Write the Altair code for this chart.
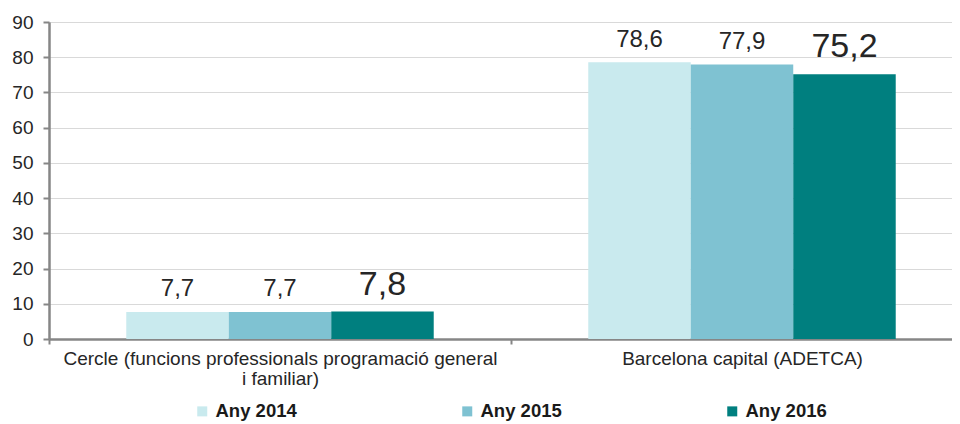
import altair as alt
import pandas as pd

categories = ["Cercle (funcions professionals programació general|i familiar)",
              "Barcelona capital (ADETCA)"]
years = ["Any 2014", "Any 2015", "Any 2016"]
values_2014 = [7.7, 78.6]
values_2015 = [7.7, 77.9]
values_2016 = [7.8, 75.2]
colors = ["#c9eaee", "#7fc2d2", "#007f7f"]

rows = []
for year, vals in zip(years, [values_2014, values_2015, values_2016]):
    for cat, v in zip(categories, vals):
        rows.append({"cat": cat, "year": year, "value": v,
                     "label": f"{v:.1f}".replace(".", ",")})
df = pd.DataFrame(rows)

FONT = "Liberation Sans"

x = alt.X("cat:N", sort=categories, title=None,
          scale=alt.Scale(range=[0, 924], paddingInner=0, paddingOuter=0),
          axis=alt.Axis(labelExpr="split(datum.label, '|')", labelAngle=0,
                        labelFontSize=19, labelColor="#262626", labelFont=FONT,
                        labelLineHeight=20, labelPadding=5, labelLimit=700,
                        tickBand="extent", tickSize=5, tickColor="#868686",
                        tickWidth=2, domainColor="#868686", domainWidth=2.5,
                        grid=False))
xo = alt.XOffset("year:N", sort=years,
                 scale=alt.Scale(paddingInner=0, paddingOuter=0.754))
y = alt.Y("value:Q", title=None,
          scale=alt.Scale(domain=[0, 90], nice=False),
          axis=alt.Axis(values=list(range(0, 91, 10)), labelFontSize=19,
                        labelColor="#262626", labelFont=FONT, labelPadding=10,
                        tickSize=6, tickColor="#868686", tickWidth=2,
                        domainColor="#868686", domainWidth=2.5,
                        gridColor="#d9d9d9", gridWidth=1))

bars = alt.Chart(df).mark_bar().encode(
    x=x, xOffset=xo, y=y,
    color=alt.Color("year:N", sort=years,
                    scale=alt.Scale(domain=years, range=colors),
                    legend=alt.Legend(title=None, orient="none", legendX=144,
                                      legendY=380, direction="horizontal",
                                      columns=3, columnPadding=161,
                                      symbolType="square", symbolSize=100,
                                      symbolStrokeWidth=0,
                                      labelFont=FONT, labelFontSize=18.5,
                                      labelFontWeight="bold",
                                      labelColor="#1a1a1a", labelOffset=4)))

small = alt.Chart(df).transform_filter(alt.datum.year != "Any 2016").mark_text(
    baseline="alphabetic", dy=-15.5, fontSize=24, font=FONT, color="#262626"
).encode(x=x, xOffset=xo, y=y, text="label:N")

big = alt.Chart(df).transform_filter(alt.datum.year == "Any 2016").mark_text(
    baseline="alphabetic", dy=-17, fontSize=34, font=FONT, color="#262626"
).encode(x=x, xOffset=xo, y=y, text="label:N")

chart = alt.layer(bars, small, big).properties(
    width=903, height=317,
    autosize=alt.AutoSizeParams(type="none"),
    padding={"left": 41, "top": 14, "right": 0, "bottom": 85},
).configure_view(stroke=None).configure(font=FONT)

chart.save("out.html", embed_options={"renderer": "svg", "actions": False})
